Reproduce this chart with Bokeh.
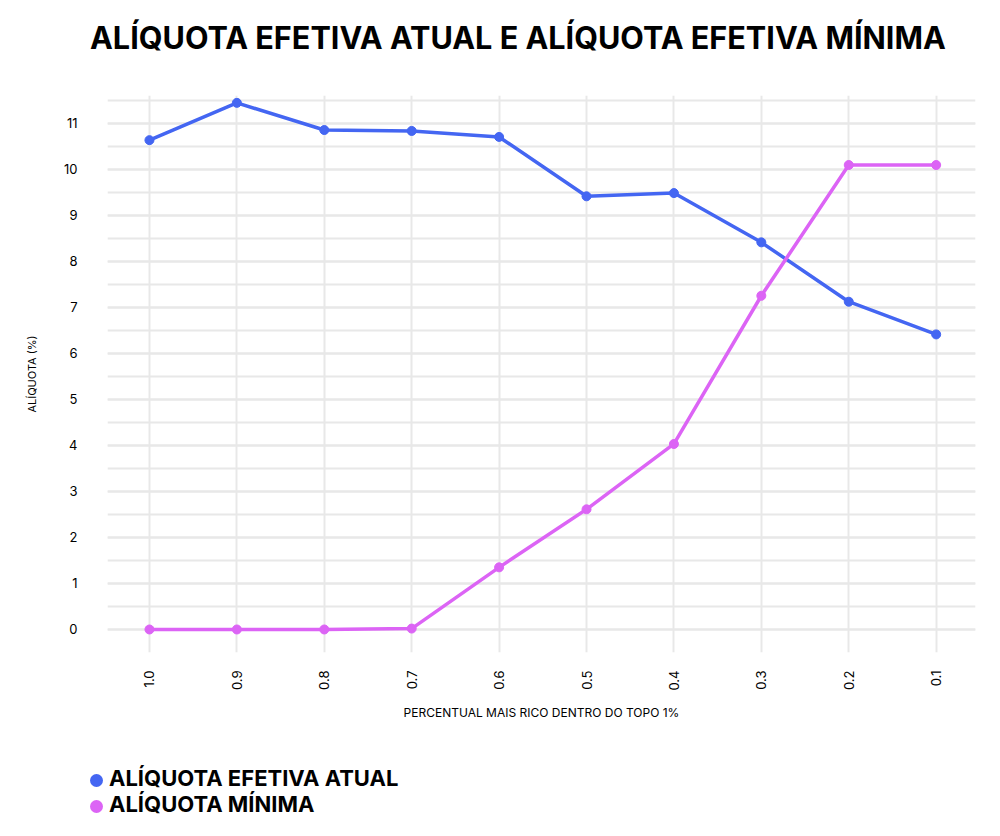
import math

from bokeh.plotting import figure
from bokeh.layouts import column
from bokeh.models import FixedTicker, SingleIntervalTicker, Range1d, Div
from bokeh.embed import file_html
from bokeh.resources import INLINE

# percentil mais rico dentro do topo 1%
categorias = ["1.0", "0.9", "0.8", "0.7", "0.6", "0.5", "0.4", "0.3", "0.2", "0.1"]
atual = [10.63, 11.44, 10.85, 10.83, 10.70, 9.41, 9.48, 8.41, 7.12, 6.41]
minima = [0.0, 0.0, 0.0, 0.02, 1.35, 2.61, 4.03, 7.25, 10.09, 10.09]
series = ["ALÍQUOTA EFETIVA ATUAL", "ALÍQUOTA MÍNIMA"]
titulo = "ALÍQUOTA EFETIVA ATUAL E ALÍQUOTA EFETIVA MÍNIMA"

AZUL = "#4466F2"
ROSA = "#DC64F5"
GRADE = "#e8e8e8"
FONTE = "Inter"

xs = list(range(len(categorias)))

# título em html, acima do gráfico
cab = Div(
    text=titulo, width=984, height=70, margin=0,
    styles={"font-family": FONTE, "font-weight": "bold",
            "font-size": "30.6px", "line-height": "37px", "color": "black",
            "padding-left": "90px", "padding-top": "19px",
            "white-space": "nowrap"},
)

p = figure(
    width=984, height=690,
    output_backend="svg", toolbar_location=None,
    x_range=Range1d(-0.48, 9.45), y_range=Range1d(-0.5, 11.6),
    min_border_left=107, min_border_right=9,
    min_border_top=25, min_border_bottom=108,
    title=None,
)
p.outline_line_color = None

# eixos
p.xaxis.ticker = FixedTicker(ticks=xs)
p.xaxis.major_label_overrides = {i: c for i, c in enumerate(categorias)}
p.xaxis.major_label_orientation = math.pi / 2
p.yaxis.ticker = SingleIntervalTicker(interval=1, num_minor_ticks=2)

for ax in (p.xaxis, p.yaxis):
    ax.axis_line_color = None
    ax.major_tick_line_color = None
    ax.minor_tick_line_color = None
    ax.major_label_text_font = FONTE
    ax.major_label_text_font_size = "13px"
    ax.major_label_text_color = "black"
    ax.axis_label_text_font = FONTE
    ax.axis_label_text_font_style = "normal"
    ax.axis_label_text_color = "black"

p.yaxis.major_label_standoff = 24
p.yaxis.axis_label = "ALÍQUOTA (%)"
p.yaxis.axis_label_text_font_size = "11px"
p.yaxis.axis_label_standoff = 22

p.xaxis.major_label_standoff = 12
p.xaxis.axis_label = "PERCENTUAL MAIS RICO DENTRO DO TOPO 1%"
p.xaxis.axis_label_text_font_size = "12px"
p.xaxis.axis_label_standoff = 11

# grade
p.xgrid.grid_line_color = GRADE
p.xgrid.grid_line_width = 2
p.ygrid.grid_line_color = GRADE
p.ygrid.grid_line_width = 2
p.ygrid.minor_grid_line_color = GRADE
p.ygrid.minor_grid_line_width = 2

# séries
p.line(xs, atual, line_color=AZUL, line_width=3.5)
p.scatter(xs, atual, size=9, fill_color=AZUL, line_color=AZUL)
p.line(xs, minima, line_color=ROSA, line_width=3.5)
p.scatter(xs, minima, size=9, fill_color=ROSA, line_color=ROSA)

# legenda em html, abaixo do gráfico
linhas = ""
for nome, cor in zip(series, [AZUL, ROSA]):
    linhas += (
        '<div style="height:26px;line-height:26px;white-space:nowrap">'
        '<span style="display:inline-block;width:13px;height:13px;'
        'border-radius:50%%;background:%s;margin-right:6px;'
        'vertical-align:-1px"></span>%s</div>' % (cor, nome)
    )
leg = Div(
    text=linhas, width=984, height=60, margin=0,
    styles={"font-family": FONTE, "font-weight": "bold",
            "font-size": "22px", "color": "black",
            "padding-left": "90px", "padding-top": "5px"},
)

open("out.html", "w").write(file_html(column(cab, p, leg), INLINE))
